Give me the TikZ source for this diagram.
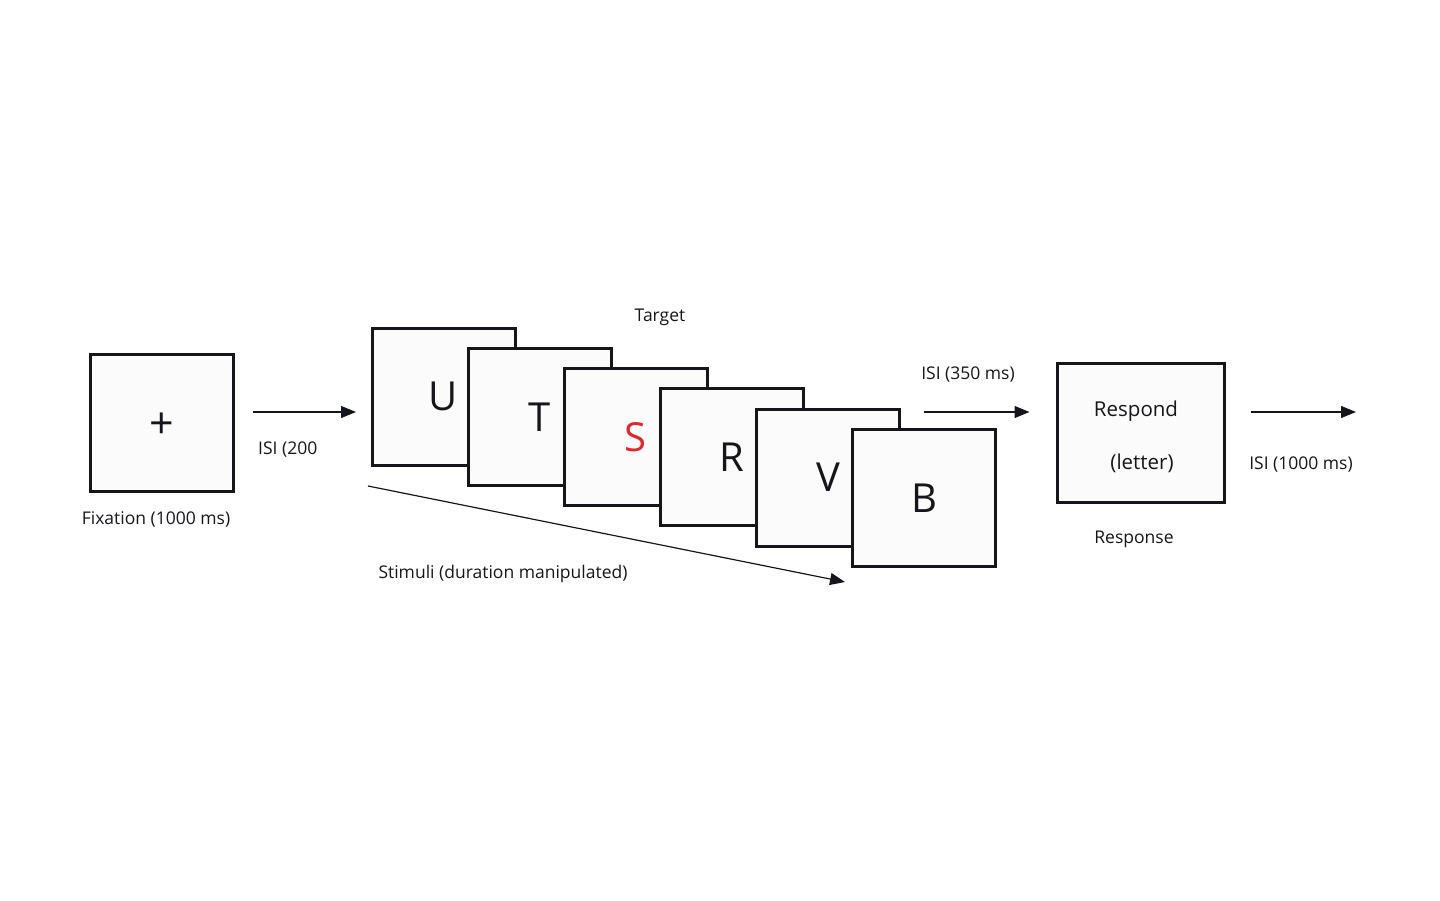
\documentclass[tikz,border=0pt]{standalone}
\usepackage{fontspec}
\setmainfont{Open Sans}
\usetikzlibrary{arrows.meta,positioning,calc}
\definecolor{ink}{HTML}{15151C}
\definecolor{cue}{HTML}{E0262E}
\definecolor{paper}{HTML}{FBFBFB}

\begin{document}
\begin{tikzpicture}[x=1pt,y=-1pt,
  screen/.style={draw=ink,line width=3pt,fill=paper,inner sep=0pt,
                 minimum width=143pt,minimum height=137pt},
  flow/.style={draw=ink,line width=1.2pt,-{Triangle[length=15pt,width=12pt]}},
  lbl/.style={text=ink,inner sep=0pt,font=\fontsize{17.5}{20}\selectfont},
  glyph/.style={font=\fontsize{40}{48}\selectfont}]
  \useasboundingbox (0,0) rectangle (1440,900);
  \coordinate (lane) at (0,412);

  % fixation screen
  \node[screen] (fix) at (162,422.5) {};
  \node[text=ink,inner sep=0pt,font=\fontsize{43}{46}\selectfont] (cross) at ([yshift=-3.5pt]fix.center) {+};
  \node[lbl] (fixlbl) at (156,519) {Fixation (1000 ms)};
  \node[lbl,anchor=west] (isiA) at (258,450) {ISI (200};

  % stimulus stream, later screens on top
  \foreach \ltr/\col [count=\i from 0] in {U/ink,T/ink,S/cue,R/ink,V/ink,B/ink}
    \node[screen,glyph,text=\col] (stim\i) at ({443.5+96.1*\i},{396.5+20.3*\i}) {\ltr};
  \node[lbl] (tgt) at (660,317) {Target};
  \node[lbl] (stimlbl) at (503,574) {Stimuli (duration manipulated)};
  \coordinate (seqA) at (368,486);
  \coordinate (seqB) at (845,582);
  \draw[flow] (seqA) -- (seqB);

  % response screen
  \node[screen,minimum width=167pt,minimum height=139pt] (resp) at (1141,433) {};
  \node[lbl,font=\fontsize{20.5}{24}\selectfont] (respA) at (1136,411) {Respond};
  \node[lbl,font=\fontsize{20.5}{24}\selectfont] (respB) at (1142,463) {(letter)};
  \node[lbl] (resplbl) at (1134,539) {Response};
  \node[lbl] (isiB) at (968,375) {ISI (350 ms)};
  \node[lbl] (isiC) at (1301,465) {ISI (1000 ms)};
  \coordinate (next) at (1356,412);

  \draw[flow,shorten <=17.5pt,shorten >=14.5pt] (fix.east |- lane) -- (stim0.west |- lane);
  \draw[flow,shorten <=23.5pt,shorten >=26.5pt] (stim4.east |- lane) -- (resp.west |- lane);
  \draw[flow,shorten <=24.5pt] (resp.east |- lane) -- (next);
\end{tikzpicture}
\end{document}
